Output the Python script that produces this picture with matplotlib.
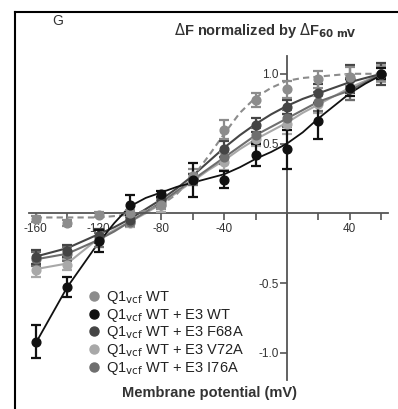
import matplotlib
matplotlib.use('Agg')
import matplotlib.pyplot as plt
from matplotlib.lines import Line2D

plt.rcParams['font.family'] = ['Liberation Sans', 'DejaVu Sans']

# membrane potential (mV)
volts = [-160, -140, -120, -100, -80, -60, -40, -20, 0, 20, 40, 60]

# measured points (normalized dF) and error bars
wt      = [-0.04, -0.07, -0.01, 0.00, 0.06, 0.27, 0.60, 0.81, 0.89, 0.96, 0.98, 1.00]
wt_err  = [0.02, 0.02, 0.02, 0.02, 0.03, 0.05, 0.07, 0.05, 0.06, 0.06, 0.07, 0.05]
e3      = [-0.92, -0.53, -0.20, 0.06, 0.14, 0.24, 0.24, 0.42, 0.46, 0.66, 0.90, 1.00]
e3_err  = [0.12, 0.07, 0.08, 0.07, 0.02, 0.12, 0.06, 0.08, 0.14, 0.13, 0.06, 0.04]
f68a    = [-0.31, -0.27, -0.16, -0.05, 0.10, 0.25, 0.46, 0.63, 0.76, 0.86, 0.96, 1.00]
f68a_err= [0.05, 0.04, 0.05, 0.03, 0.04, 0.03, 0.06, 0.05, 0.05, 0.07, 0.10, 0.08]
v72a    = [-0.41, -0.37, -0.18, -0.07, 0.06, 0.24, 0.37, 0.53, 0.64, 0.78, 0.90, 1.00]
v72a_err= [0.05, 0.04, 0.06, 0.03, 0.05, 0.04, 0.06, 0.05, 0.07, 0.06, 0.09, 0.06]
i76a    = [-0.33, -0.29, -0.19, -0.06, 0.08, 0.24, 0.40, 0.56, 0.68, 0.80, 0.89, 1.00]
i76a_err= [0.05, 0.05, 0.05, 0.03, 0.04, 0.04, 0.05, 0.05, 0.06, 0.07, 0.08, 0.05]

# fitted curves, every 10 mV
fit_v    = [-160, -150, -140, -130, -120, -110, -100, -90, -80, -70, -60, -50, -40, -30, -20, -10, 0, 10, 20, 30, 40, 50, 60]
wt_fit   = [-0.03, -0.03, -0.03, -0.03, -0.03, -0.02, -0.01, 0.02, 0.06, 0.14, 0.26, 0.41, 0.57, 0.72, 0.83, 0.90, 0.95, 0.97, 0.98, 0.99, 1.0, 1.0, 1.0]
e3_fit   = [-0.93, -0.73, -0.53, -0.37, -0.21, -0.07, 0.05, 0.11, 0.15, 0.19, 0.22, 0.25, 0.28, 0.33, 0.39, 0.44, 0.50, 0.58, 0.68, 0.77, 0.86, 0.93, 0.99]
f68a_fit = [-0.31, -0.28, -0.25, -0.20, -0.15, -0.10, -0.04, 0.03, 0.10, 0.18, 0.27, 0.37, 0.47, 0.56, 0.64, 0.71, 0.77, 0.82, 0.86, 0.90, 0.94, 0.97, 1.0]
v72a_fit = [-0.40, -0.38, -0.36, -0.27, -0.18, -0.12, -0.06, 0.00, 0.07, 0.15, 0.23, 0.31, 0.38, 0.46, 0.53, 0.59, 0.65, 0.72, 0.78, 0.84, 0.90, 0.95, 1.0]
i76a_fit = [-0.33, -0.31, -0.29, -0.24, -0.19, -0.13, -0.06, 0.01, 0.08, 0.16, 0.24, 0.32, 0.40, 0.48, 0.56, 0.62, 0.68, 0.74, 0.80, 0.84, 0.88, 0.94, 1.0]

labels = [r'Q1$_{\rm vcf}$ WT', r'Q1$_{\rm vcf}$ WT + E3 WT', r'Q1$_{\rm vcf}$ WT + E3 F68A',
          r'Q1$_{\rm vcf}$ WT + E3 V72A', r'Q1$_{\rm vcf}$ WT + E3 I76A']
colors = ['#8c8c8c', '#111111', '#454545', '#a8a8a8', '#6e6e6e']

fig = plt.figure(figsize=(3.98, 4.09), dpi=100, facecolor='white')
ax = fig.add_axes([0, 0, 1, 1])
ax.set_xlim(-182.8, 70.7)
ax.set_ylim(-1.403, 1.529)
ax.patch.set_alpha(0)

# curves
ax.plot(fit_v, v72a_fit, color=colors[3], lw=1.5, zorder=2)
ax.plot(fit_v, i76a_fit, color=colors[4], lw=1.5, zorder=2)
ax.plot(fit_v, f68a_fit, color=colors[2], lw=1.5, zorder=2)
ax.plot(fit_v, wt_fit, color=colors[0], lw=1.5, ls=(0, (3, 2)), zorder=2)
ax.plot(fit_v, e3_fit, color=colors[1], lw=1.3, zorder=2)

# points with error bars
series = [(v72a, v72a_err, colors[3]), (i76a, i76a_err, colors[4]),
          (f68a, f68a_err, colors[2]), (wt, wt_err, colors[0]), (e3, e3_err, colors[1])]
for vals, err, c in series:
    ax.errorbar(volts, vals, yerr=err, fmt='o', ms=6.3, color=c, ecolor=c,
                elinewidth=1.6, capsize=3.8, capthick=1.6, zorder=3)

# axes through origin
for s in ['top', 'right']:
    ax.spines[s].set_visible(False)
ax.spines['left'].set_position(('data', 0))
ax.spines['bottom'].set_position(('data', 0))
ax.spines['left'].set_bounds(-1.195, 1.13)
ax.spines['bottom'].set_bounds(-164.3, 64.3)
ax.spines['left'].set_color('#555555')
ax.spines['bottom'].set_color('#555555')
ax.spines['left'].set_linewidth(1.3)
ax.spines['bottom'].set_linewidth(1.3)

ax.set_xticks(range(-160, 61, 20))
ax.set_xticklabels(['-160', '', '-120', '', '-80', '', '-40', '', '', '', '40', ''])
ax.set_yticks([-1.0, -0.5, 0.5, 1.0])
ax.set_yticklabels(['-1.0', '-0.5', '0.5', '1.0'])
ax.tick_params(axis='x', direction='out', length=5, width=1.2, color='#555555',
               labelsize=8.5, pad=2, labelcolor='#333333')
ax.tick_params(axis='y', direction='out', length=5, width=1.2, color='#555555',
               labelsize=8.5, pad=1, labelcolor='#333333')

# legend
handles = [Line2D([], [], ls='none', marker='o', ms=6.5, color=c) for c in colors]
ax.legend(handles, labels, loc='upper left', bbox_to_anchor=(90 / 398, 1 - 289 / 409),
          bbox_transform=fig.transFigure, frameon=False, fontsize=10.5,
          handlelength=0.6, handletextpad=0.5, labelspacing=0.05, borderpad=0,
          borderaxespad=0, labelcolor='#222222')

fig.text(265 / 398, 1 - 30 / 409, r'$\Delta$F normalized by $\Delta$F$_{\mathbf{60\ mV}}$',
         ha='center', va='center', fontsize=10.5, fontweight='bold', color='#333333')
fig.text(210 / 398, 1 - 393 / 409, 'Membrane potential (mV)', ha='center', va='center',
         fontsize=10.5, fontweight='bold', color='#333333')
fig.text(58 / 398, 1 - 21 / 409, 'G', ha='center', va='center', fontsize=10, color='#333333')

# frame lines of the panel
fig.add_artist(Line2D([15 / 398, 15 / 398], [0, 1 - 12 / 409], color='black', lw=1.5,
                      transform=fig.transFigure))
fig.add_artist(Line2D([15 / 398, 1], [1 - 12 / 409, 1 - 12 / 409], color='black', lw=1.5,
                      transform=fig.transFigure))

fig.savefig('out.png', dpi=100, facecolor='white')
